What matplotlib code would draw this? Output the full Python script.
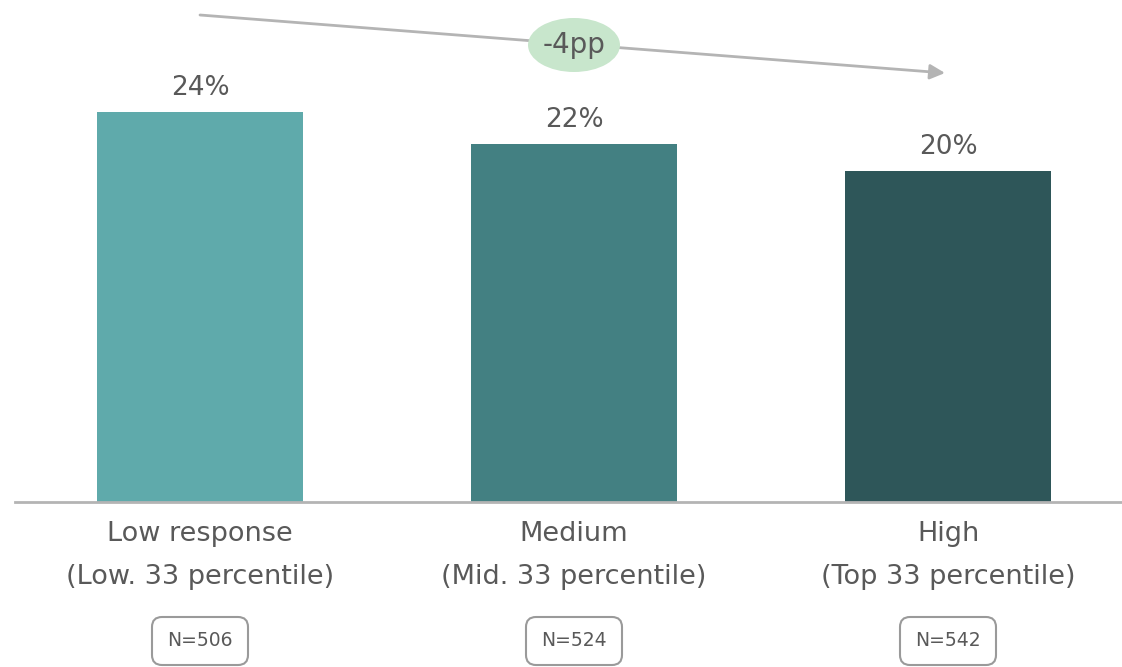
import matplotlib.pyplot as plt
from matplotlib.patches import Ellipse, FancyBboxPatch

# ------------------------
# Data
# ------------------------
categories = ["Low response\n(Low. 33 percentile)",
              "Medium\n(Mid. 33 percentile)",
              "High\n(Top 33 percentile)"]
values = [23.8, 21.8, 20.2]
value_labels = ["24%", "22%", "20%"]
sample_sizes = ["N=506", "N=524", "N=542"]
change_label = "-4pp"

colors = ["#5faaab", "#438082", "#2e5659"]
text_color = "#595959"
line_color = "#b4b4b4"

# ------------------------
# Figure / axes (pixel scale: 1 unit x = 374px, 1 unit y = 16.4px)
# ------------------------
fig = plt.figure(figsize=(11.22, 6.67), dpi=100)
ax = fig.add_axes([0, 165 / 667, 1, 502 / 667])
px_x = 1 / 374
px_y = 1 / 16.4
ax.set_xlim(-200 * px_x, 922 * px_x)
ax.set_ylim(0, 502 * px_y)
ax.axis("off")

x = list(range(len(categories)))
bars = ax.bar(x, values, width=206 * px_x, color=colors, zorder=2)

ax.axhline(0, xmin=15 / 1122, xmax=1, color=line_color, lw=2, zorder=3, clip_on=False)

# value labels
for b, lab in zip(bars, value_labels):
    ax.annotate(lab, (b.get_x() + b.get_width() / 2, b.get_height()),
                xytext=(0, 8), textcoords="offset points",
                ha="center", va="bottom", fontsize=19, color=text_color)

# category labels
for xi, cat in zip(x, categories):
    ax.text(xi, -19 * px_y, cat, ha="center", va="top", fontsize=19.5,
            color=text_color, linespacing=1.85, clip_on=False)

# N boxes
bw, bh = 96 * px_x, 48 * px_y
for xi, n in zip(x, sample_sizes):
    cy = -139 * px_y
    box = FancyBboxPatch((xi - bw / 2, cy - bh / 2), bw, bh,
                         boxstyle=f"round,pad=0,rounding_size={10 * px_x}",
                         mutation_aspect=px_y / px_x,
                         fc="white", ec="#9a9a9a", lw=1.5, clip_on=False)
    ax.add_patch(box)
    ax.text(xi, cy, n, ha="center", va="center", fontsize=13.5,
            color=text_color, clip_on=False)

# trend arrow with change badge
ax.annotate("", xy=(745 * px_x, (502 - 73) * px_y), xytext=(0, (502 - 15) * px_y),
            arrowprops=dict(arrowstyle="-|>,head_length=0.9,head_width=0.45",
                            color=line_color, lw=2, shrinkA=0, shrinkB=0),
            annotation_clip=False)
badge = Ellipse((1, (502 - 45) * px_y), 92 * px_x, 54 * px_y,
                fc="#c8e6cc", ec="none", zorder=5, clip_on=False)
ax.add_patch(badge)
ax.text(1, (502 - 45) * px_y, change_label, ha="center", va="center",
        fontsize=20, color=text_color, zorder=6)

fig.savefig("out.png", dpi=100)
